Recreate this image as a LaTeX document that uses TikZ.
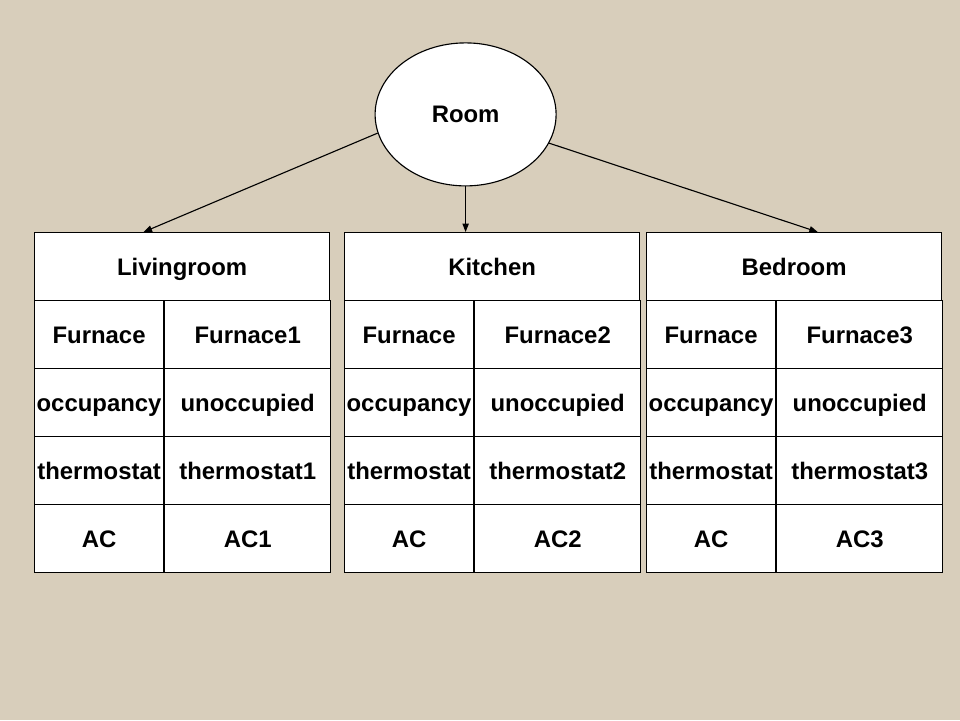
\documentclass[tikz,border=0pt]{standalone}
\usepackage{fontspec}
\setmainfont{Liberation Sans}
\usetikzlibrary{
    shapes.geometric,
    arrows.meta,
    positioning,
    calc
}
\definecolor{canvasbeige}{RGB}{216,206,187}

\tikzset{
    cell/.style={draw, fill=white, line width=0.8pt, inner sep=0pt, anchor=north west,
        text height=12.2pt, text depth=0pt,
        font=\bfseries\fontsize{17}{20}\selectfont},
    headcell/.style={cell, minimum width=7.375cm, minimum height=1.7cm},
    keycell/.style={cell, minimum width=3.225cm, minimum height=1.7cm},
    valcell/.style={cell, minimum width=4.15cm, minimum height=1.7cm},
    link/.style={-{Triangle[length=6pt, width=4.5pt]}, line width=0.8pt}
}

\begin{document}
\begin{tikzpicture}
        % Background
        \fill[canvasbeige] (0,0) rectangle (24,18);

        % Top node
        \node[draw, fill=white, ellipse, line width=0.8pt, inner sep=0pt,
            minimum width=4.525cm, minimum height=3.575cm,
            text height=12.2pt, text depth=0pt,
            font=\bfseries\fontsize{17}{20}\selectfont] (room) at (11.64,15.14) {Room};

        % Room tables
        \foreach \name/\title/\n/\x in {liv/Livingroom/1/0.85, kit/Kitchen/2/8.6, bed/Bedroom/3/16.15} {
            \node[headcell] (\name) at (\x,12.2) {\title};
            \foreach \i/\key/\val in {1/Furnace/Furnace\n, 2/occupancy/unoccupied,
                                      3/thermostat/thermostat\n, 4/AC/AC\n} {
                \node[keycell] (\name-k\i) at (\x,{12.2-1.7*\i}) {\key};
                \node[valcell] (\name-v\i) at (\name-k\i.north east) {\val};
            }
        }

        % Links
        \draw[link] (room.192) -- ($(liv.north west)!0.37!(liv.north east)$);
        \draw[link] (room.south) -- (room.south |- kit.north);
        \draw[link] (room.-19) -- ($(bed.north west)!0.58!(bed.north east)$);
    \end{tikzpicture}
\end{document}
